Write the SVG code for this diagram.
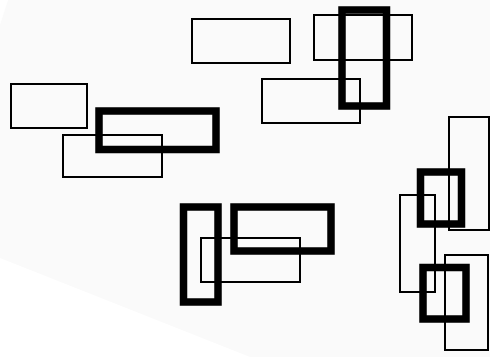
<svg xmlns="http://www.w3.org/2000/svg" width="490" height="357" viewBox="0 0 490 357">
<style>
.thin{fill:none;stroke:#000;stroke-width:2}
.thick{fill:none;stroke:#000;stroke-width:7.5}
</style>
<rect width="490" height="357" fill="#ffffff"/>
<polygon points="8,0 490,0 490,357 250,357 0,258 0,25" fill="#fafafa"/>
<g id="r1"><rect class="thin" x="11" y="84" width="76" height="44"/></g>
<g id="r2"><rect class="thin" x="63" y="135" width="99" height="42"/></g>
<g id="r3"><rect class="thin" x="192" y="19" width="98" height="44"/></g>
<g id="r4"><rect class="thin" x="314" y="15" width="98" height="45"/></g>
<g id="r5"><rect class="thin" x="262" y="79" width="98" height="44"/></g>
<g id="r6"><rect class="thin" x="201" y="238" width="99" height="44"/></g>
<g id="r7"><rect class="thin" x="449" y="117" width="40" height="113"/></g>
<g id="r8"><rect class="thin" x="400" y="195" width="35" height="97"/></g>
<g id="r9"><rect class="thin" x="445" y="255" width="43" height="95"/></g>
<g id="t1"><rect class="thick" x="99" y="111" width="117" height="38.5"/></g>
<g id="t2"><rect class="thick" x="342" y="10" width="44.5" height="96"/></g>
<g id="t3"><rect class="thick" x="183.5" y="207" width="34.5" height="95"/></g>
<g id="t4"><rect class="thick" x="234" y="207" width="97" height="44"/></g>
<g id="t5"><rect class="thick" x="420.5" y="172" width="41" height="52"/></g>
<g id="t6"><rect class="thick" x="423" y="267.5" width="43" height="51.5"/></g>
</svg>
